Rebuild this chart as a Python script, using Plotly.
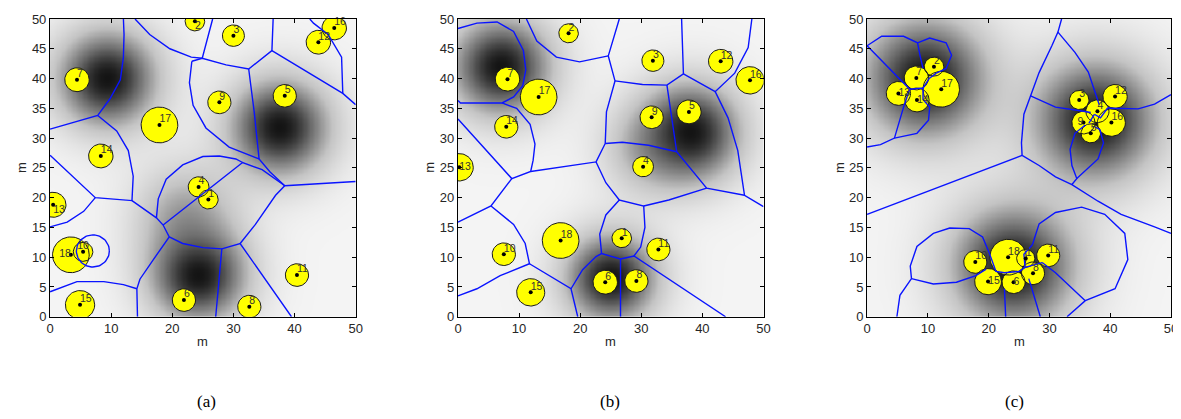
import numpy as np
import plotly.graph_objects as go

# ---------------- data ----------------
node_ids = list(range(1, 19))

# panel (a)
a_x = [25.9, 23.7, 30.0, 24.3, 38.4, 21.9, 4.4, 32.6, 27.7, 5.4, 40.4, 43.9, 0.5, 8.3, 4.9, 46.5, 17.9, 3.4]
a_y = [19.7, 49.6, 47.2, 21.8, 37.1, 2.8, 39.8, 1.7, 36.0, 10.9, 7.0, 46.1, 18.8, 27.0, 2.0, 48.5, 32.2, 10.4]
a_r = [1.6, 1.6, 1.8, 1.7, 1.9, 1.9, 2.0, 1.9, 1.9, 1.6, 1.9, 2.0, 2.1, 2.0, 2.4, 2.0, 3.0, 3.0]

# panel (b)
b_x = [26.8, 18.1, 31.9, 30.3, 37.8, 24.1, 8.1, 29.2, 31.7, 7.5, 32.8, 43.0, 0.2, 7.9, 11.9, 47.8, 13.2, 16.8]
b_y = [13.2, 47.6, 43.0, 25.2, 34.4, 5.8, 39.9, 6.0, 33.5, 10.5, 11.3, 42.9, 25.1, 31.9, 4.1, 39.7, 36.9, 12.8]
b_r = [1.6, 1.6, 1.8, 1.7, 2.0, 2.0, 2.0, 1.9, 1.9, 1.9, 1.9, 2.0, 2.3, 1.9, 2.3, 2.3, 3.0, 3.0]

# panel (c)
c_x = [26.1, 11.0, 34.9, 37.9, 36.8, 24.1, 8.1, 27.3, 35.6, 17.8, 29.8, 40.8, 5.15, 8.2, 19.9, 40.2, 12.2, 23.2]
c_y = [9.8, 42.0, 36.4, 34.5, 30.8, 5.8, 40.1, 7.3, 32.6, 9.2, 10.3, 37.0, 37.5, 36.4, 5.9, 32.6, 38.2, 10.0]
c_r = [1.5, 1.6, 1.6, 1.9, 1.6, 1.9, 2.0, 1.9, 1.9, 1.9, 1.9, 2.0, 2.0, 2.0, 2.2, 2.3, 3.0, 3.0]

# density blobs (centre x, centre y, amplitude, spread) per panel
a_blob_x = [9.3, 37.5, 24.2, 22.0]
a_blob_y = [40.0, 31.8, 7.0, 17.5]
a_blob_amp = [1.0, 1.0, 1.0, 0.45]
a_blob_s = [6.0, 6.0, 5.8, 6.0]

b_blob_x = [7.0, 38.0, 25.0, 31.0]
b_blob_y = [42.0, 31.0, 6.5, 28.0]
b_blob_amp = [1.0, 1.0, 1.0, 0.35]
b_blob_s = [6.0, 6.0, 5.5, 5.5]

c_blob_x = [9.5, 37.5, 24.0]
c_blob_y = [40.0, 33.0, 8.5]
c_blob_amp = [1.0, 1.0, 1.0]
c_blob_s = [7.5, 7.5, 7.5]

# cell boundaries (polylines, data units)
a_bounds = [
    [(12.0, 50), (12.1, 47.4), (12.0, 43.6), (11.5, 39.8), (9.8, 36.6), (7.8, 33.8), (0, 31.5)],
    [(7.8, 33.8), (10.9, 31.2), (12.8, 27.9), (13.6, 23.6), (13.4, 19.5), (7.4, 20.0), (0, 27.1)],
    [(7.4, 20.0), (5.5, 17.7), (2.8, 15.9), (0, 15.1)],
    [(13.4, 19.5), (17.4, 16.6), (18.5, 15.4), (19.5, 13.4), (16.9, 9.6), (14.7, 6.3), (14.2, 4.7), (14.3, 0)],
    [(19.5, 13.4), (21.7, 12.3), (25.0, 11.6), (28.1, 11.4), (27.1, 0)],
    [(28.1, 11.4), (31.1, 12.3), (39.5, 0)],
    [(31.1, 12.3), (33.6, 15.5), (36.9, 20.4), (38.4, 22.0), (50, 22.7)],
    [(18.5, 15.4), (31.5, 25.9), (34.7, 24.7), (38.4, 22.0)],
    [(17.4, 16.6), (17.7, 19.8), (19.0, 23.1), (21.7, 25.5), (25.0, 26.9), (27.7, 27.0), (30.4, 26.5), (31.5, 25.9)],
    [(32.5, 41.6), (33.4, 34.4), (34.2, 26.5), (36.0, 24.3), (38.4, 22.0)],
    [(23.2, 42.9), (22.8, 39.3), (23.4, 35.5), (25.5, 31.7), (29.3, 28.5), (34.2, 26.5)],
    [(13.9, 50), (16.3, 47.4), (19.6, 45.0), (23.1, 43.6), (24.9, 43.4), (26.6, 50)],
    [(23.2, 42.9), (24.9, 43.4), (28.8, 42.3), (32.5, 41.6), (36.3, 44.7), (36.5, 50)],
    [(36.3, 44.7), (47.9, 37.5), (50, 35.6)],
    [(42.5, 50), (43.1, 49.3), (45.5, 47.4), (47.7, 43.6), (47.9, 37.5)],
    [(0, 4.2), (4.4, 5.9), (8.8, 5.9), (12.0, 5.4), (14.2, 4.7)],
]
a_ring = [(7.0, 11.05, 2.7)]

b_bounds = [
    [(0, 48.4), (3.1, 49.3), (6.4, 49.5), (9.1, 47.9), (10.7, 44.7), (11.1, 41.5), (10.6, 38.8), (9.1, 36.9), (7.2, 35.9), (0.4, 35.9), (0, 36.3)],
    [(7.2, 35.9), (9.6, 35.0), (11.8, 32.3), (12.6, 29.0), (12.3, 26.3), (11.9, 24.4), (8.8, 23.2), (0, 33.2)],
    [(8.8, 23.2), (5.4, 18.6), (0, 15.9)],
    [(5.4, 18.6), (9.1, 15.5), (11.0, 12.3), (11.7, 8.9), (6.9, 6.9), (3.1, 4.7), (0, 3.5)],
    [(11.7, 8.9), (18.5, 4.7), (19.6, 0)],
    [(18.5, 4.7), (20.4, 7.9), (22.6, 10.1), (23.5, 10.6), (26.6, 9.7), (26.6, 0)],
    [(26.6, 9.7), (28.8, 10.2), (43.8, 0)],
    [(23.5, 10.6), (23.2, 13.9), (24.2, 17.1), (26.4, 19.6), (30.4, 18.6), (30.6, 15.0), (29.9, 11.7), (28.8, 10.2)],
    [(26.4, 19.6), (24.2, 22.5), (22.6, 26.0), (11.9, 24.4)],
    [(22.6, 26.0), (24.1, 29.1), (24.3, 34.4), (25.0, 37.1), (25.7, 39.6), (24.6, 43.8), (26.4, 50)],
    [(24.6, 43.8), (19.9, 42.8), (16.1, 43.6), (12.9, 46.3), (11.2, 50)],
    [(25.7, 39.6), (30.2, 39.0), (34.2, 38.9), (36.9, 40.8), (36.6, 50)],
    [(36.9, 40.8), (42.1, 37.8), (45.3, 40.9), (47.5, 45.2), (48.1, 50)],
    [(42.1, 37.8), (44.2, 33.4), (45.8, 27.9), (46.9, 20.4), (50, 18.5)],
    [(46.9, 20.4), (40.7, 21.6), (35.8, 27.7), (34.2, 38.9)],
    [(35.8, 27.7), (31.2, 28.8), (26.9, 29.3), (24.1, 29.1)],
    [(40.7, 21.6), (34.5, 19.6), (30.4, 18.6)],
]
b_ring = []

c_bounds = [
    [(0, 17.2), (25.5, 27.1)],
    [(25.5, 27.1), (25.4, 29.2), (25.8, 34.0), (26.9, 37.1), (28.3, 41.0), (30.4, 45.5), (31.4, 47.8), (32.0, 50)],
    [(31.4, 47.8), (34.2, 44.4), (36.4, 41.1), (37.4, 37.9), (38.2, 35.6)],
    [(25.5, 27.1), (28.3, 25.4), (31.0, 23.5), (33.7, 22.2), (38.0, 19.4), (41.8, 17.2), (47.3, 15.1), (50, 14.0)],
    [(33.7, 22.2), (34.5, 23.2), (33.7, 25.4), (33.4, 28.1), (34.2, 30.8), (35.9, 32.2)],
    [(34.5, 23.2), (38.0, 26.5), (38.9, 29.2), (38.3, 31.4), (37.5, 31.9)],
    [(26.9, 37.1), (31.0, 35.2), (35.1, 34.6), (36.8, 34.3)],
    [(39.6, 35.1), (40.2, 35.0), (44.6, 34.9), (47.3, 35.7), (50, 37.3)],
    [(37.4, 34.0), (38.4, 33.4), (39.6, 35.1)],
    [(36.5, 32.5), (37.4, 34.0)],
    [(0, 45.5), (2.4, 47.1), (6.0, 47.1), (8.3, 46.0), (8.7, 43.9), (9.2, 41.7)],
    [(8.3, 46.0), (10.3, 46.8), (13.0, 46.0), (13.9, 43.9), (13.0, 41.7), (11.4, 40.9)],
    [(0, 45.5), (7.0, 38.2), (6.0, 35.2), (4.5, 30.0), (2.2, 28.9), (0, 28.5)],
    [(4.5, 30.0), (8.2, 30.8), (10.1, 33.0), (10.3, 35.2), (9.2, 36.5), (9.2, 38.4), (7.0, 38.2)],
    [(9.2, 38.4), (10.2, 40.0), (11.4, 40.9)],
    [(4.9, 0), (5.4, 3.6), (7.3, 6.4), (7.1, 8.5), (8.2, 11.8), (10.9, 14.0), (13.6, 14.9), (16.8, 14.8), (19.0, 13.4), (20.1, 10.7)],
    [(7.3, 6.4), (10.9, 5.5), (14.7, 5.8), (17.9, 6.9), (19.6, 8.0)],
    [(27.2, 12.1), (28.3, 15.6), (31.0, 17.5), (35.3, 18.4), (39.1, 17.2), (42.4, 14.0), (42.9, 9.6), (40.8, 4.7), (35.9, 2.7), (32.9, 0)],
    [(28.8, 9.1), (31.0, 7.4), (35.9, 2.7)],
    [(22.6, 4.7), (22.8, 0)],
    [(26.6, 6.4), (28.5, 0)],
    [(20.1, 10.7), (21.2, 7.6), (22.6, 7.4), (25.0, 7.6), (26.0, 8.3), (28.8, 9.1)],
    [(26.0, 8.3), (25.8, 10.5), (27.2, 12.1)],
]
c_ring = []

# label placement exceptions per panel
a_label_pos = {18: "middle left", 13: "bottom right", 10: "top center", 2: "bottom right"}
b_label_pos = {13: "middle right"}
c_label_pos = {13: "middle right", 14: "middle right", 9: "middle left", 15: "middle right", 6: "middle right"}

captions = ["(a)", "(b)", "(c)"]
tick_x = [0, 10, 20, 30, 40, 50]
tick_y = [0, 5, 10, 15, 20, 25, 30, 35, 40, 45, 50]

# ---------------- layout geometry ----------------
W, H = 1181, 419
panels_px = [(39.3, 347.7), (450.7, 759.0), (863.3, 1170.0)]
top_px, bot_px = 4.0, 312.3
caption_px = [197, 604, 1012]

panels = [
    (a_x, a_y, a_r, a_blob_x, a_blob_y, a_blob_amp, a_blob_s, a_bounds, a_ring, a_label_pos),
    (b_x, b_y, b_r, b_blob_x, b_blob_y, b_blob_amp, b_blob_s, b_bounds, b_ring, b_label_pos),
    (c_x, c_y, c_r, c_blob_x, c_blob_y, c_blob_amp, c_blob_s, c_bounds, c_ring, c_label_pos),
]

FONT = "Liberation Sans, Arial, Helvetica, sans-serif"
fig = go.Figure()
grid = np.linspace(0, 50, 251)
GX, GY = np.meshgrid(grid, grid)
th = np.linspace(0, 2 * np.pi, 73)

annotations = []
for i, (px, py, pr, bx, by, ba, bs, bounds, rings, lpos) in enumerate(panels):
    xa = "x" if i == 0 else f"x{i+1}"
    ya = "y" if i == 0 else f"y{i+1}"
    # density field
    keep = np.ones_like(GX)
    for cx, cy, amp, s in zip(bx, by, ba, bs):
        g = amp * np.exp(-((GX - cx) ** 2 + (GY - cy) ** 2) / (2 * s ** 2))
        keep *= (1 - g)
    Z = 1 - keep
    fig.add_trace(go.Heatmap(x=grid, y=grid, z=Z, zmin=0, zmax=1, zsmooth="best",
                             colorscale=[[0, "#f4f4f4"], [0.35, "#c4c4c4"], [0.7, "#6a6a6a"], [1, "#141414"]],
                             showscale=False, hoverinfo="skip", xaxis=xa, yaxis=ya))
    # node discs
    cxs, cys = [], []
    for x0, y0, r0 in zip(px, py, pr):
        cxs += list(x0 + r0 * np.cos(th)) + [None]
        cys += list(y0 + r0 * np.sin(th)) + [None]
    fig.add_trace(go.Scatter(x=cxs, y=cys, mode="lines", fill="toself", fillcolor="#ffff00",
                             line=dict(color="#1a1a1a", width=1), hoverinfo="skip",
                             showlegend=False, xaxis=xa, yaxis=ya))
    # boundaries
    lx, ly = [], []
    for seg in bounds:
        lx += [p[0] for p in seg] + [None]
        ly += [p[1] for p in seg] + [None]
    for x0, y0, r0 in rings:
        lx += list(x0 + r0 * np.cos(th)) + [None]
        ly += list(y0 + r0 * np.sin(th)) + [None]
    fig.add_trace(go.Scatter(x=lx, y=ly, mode="lines", line=dict(color="#0a14ff", width=1.4),
                             hoverinfo="skip", showlegend=False, xaxis=xa, yaxis=ya,
                             cliponaxis=True))
    # centres
    fig.add_trace(go.Scatter(x=px, y=py, mode="markers", marker=dict(color="black", size=4),
                             hoverinfo="skip", showlegend=False, xaxis=xa, yaxis=ya))
    # labels
    fig.add_trace(go.Scatter(x=px, y=py, mode="text", text=[str(n) for n in node_ids],
                             textposition=[lpos.get(n, "top right") for n in node_ids],
                             textfont=dict(family=FONT, size=10.5, color="#333333"),
                             hoverinfo="skip", showlegend=False, xaxis=xa, yaxis=ya,
                             cliponaxis=False))

    x0p, x1p = panels_px[i]
    ax_common = dict(range=[-0.02, 50.02], showgrid=False, zeroline=False, showline=True,
                     linecolor="black", linewidth=1, mirror="ticks", ticks="inside",
                     ticklen=4, tickcolor="black", ticklabeloverflow="allow",
                     tickfont=dict(family=FONT, size=13, color="#262626"))
    fig.update_layout(**{
        ("xaxis" if i == 0 else f"xaxis{i+1}"): dict(ax_common, domain=[x0p / W, x1p / W],
                                                     tickvals=tick_x, anchor=ya),
        ("yaxis" if i == 0 else f"yaxis{i+1}"): dict(ax_common, domain=[1 - bot_px / H, 1 - top_px / H],
                                                     tickvals=tick_y, anchor=xa),
    })
    annotations.append(dict(text="m", x=(x0p + x1p) / 2 / W, y=1 - 338 / H, xref="paper", yref="paper",
                            showarrow=False, font=dict(family=FONT, size=13, color="#262626"),
                            xanchor="center", yanchor="middle"))
    annotations.append(dict(text="m", x=(x0p - 28) / W, y=1 - 158 / H, xref="paper", yref="paper",
                            showarrow=False, textangle=-90,
                            font=dict(family=FONT, size=13, color="#262626"),
                            xanchor="center", yanchor="middle"))
    annotations.append(dict(text=captions[i], x=caption_px[i] / W, y=1 - 400 / H, xref="paper",
                            yref="paper", showarrow=False,
                            font=dict(family="Liberation Serif, Times New Roman, serif", size=17, color="black"),
                            xanchor="center", yanchor="middle"))

fig.update_layout(width=W, height=H, margin=dict(l=0, r=0, t=0, b=0),
                  paper_bgcolor="white", plot_bgcolor="white", showlegend=False,
                  annotations=annotations)
fig.write_html("out.html")
